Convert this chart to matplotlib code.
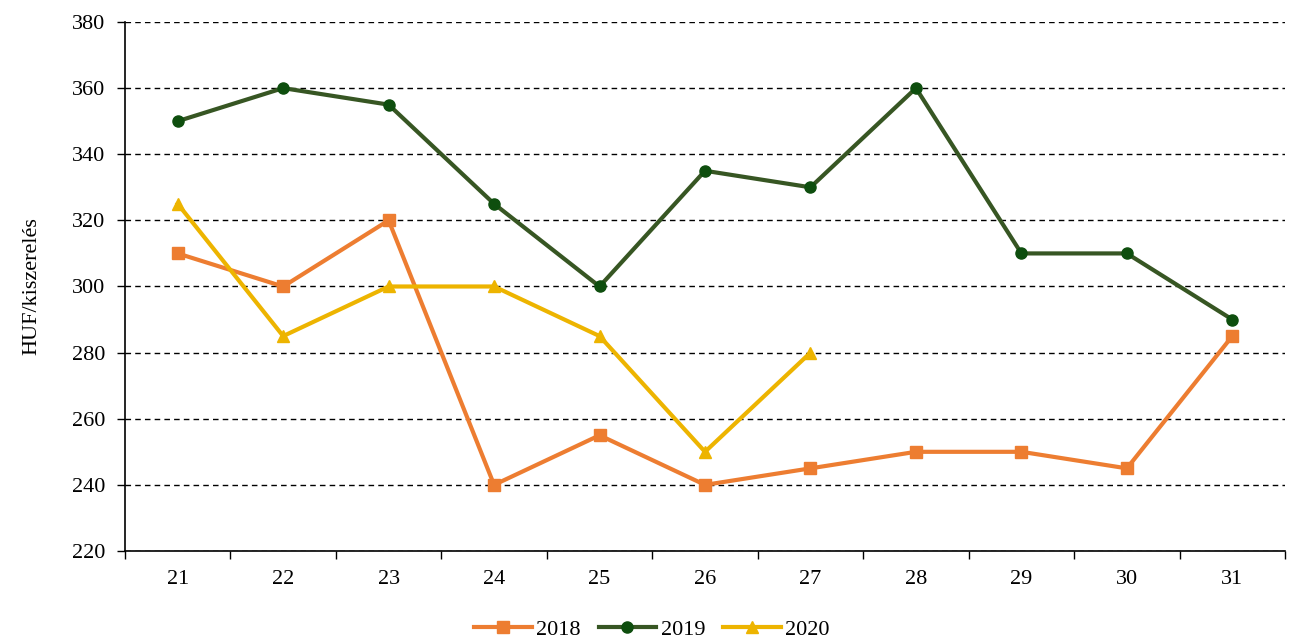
import matplotlib.pyplot as plt
import numpy as np

weeks = ['21', '22', '23', '24', '25', '26', '27', '28', '29', '30', '31']
price_2018 = [310, 300, 320, 240, 255, 240, 245, 250, 250, 245, 285]
price_2019 = [350, 360, 355, 325, 300, 335, 330, 360, 310, 310, 290]
price_2020 = [325, 285, 300, 300, 285, 250, 280]

plt.rcParams['font.family'] = ['Liberation Serif', 'DejaVu Serif']
plt.rcParams['font.size'] = 16

fig = plt.figure(figsize=(12.91, 6.41), dpi=100)
ax = fig.add_axes([0.0968, 0.1404, 0.8986, 0.8253])

x = np.arange(len(weeks))
ax.plot(x, price_2018, color='#ED7D31', lw=3, marker='s', ms=8, label='2018')
ax.plot(x, price_2019, color='#375623', lw=3, marker='o', ms=8,
        mfc='#0E4E0E', mec='#0E4E0E', label='2019')
ax.plot(x[:len(price_2020)], price_2020, color='#EDB400', lw=3, marker='^', ms=9,
        label='2020')

ax.set_xlim(-0.5, len(weeks) - 0.5)
ax.set_ylim(220, 380)
ax.set_yticks(np.arange(220, 381, 20))
ax.set_xticks(x)
ax.set_xticklabels(weeks)
ax.set_xticks(np.arange(-0.5, len(weeks)), minor=True)
ax.tick_params(axis='x', which='major', length=0, pad=14)
ax.tick_params(axis='x', which='minor', length=6, width=1, direction='out')
ax.tick_params(axis='y', length=6, width=1, direction='out', pad=8)
ax.grid(axis='y', color='black', linestyle=(0, (4, 3)), lw=1)
ax.set_axisbelow(True)
for s in ['top', 'right']:
    ax.spines[s].set_visible(False)
ax.spines['left'].set_linewidth(1.2)
ax.spines['bottom'].set_linewidth(1.2)
ax.set_ylabel('HUF/kiszerelés', labelpad=22)

fig.legend(loc='lower center', bbox_to_anchor=(0.505, -0.03), ncol=3, frameon=False,
           handlelength=2.6, columnspacing=0.8, handletextpad=0.2)

plt.savefig('out.png', dpi=100)
